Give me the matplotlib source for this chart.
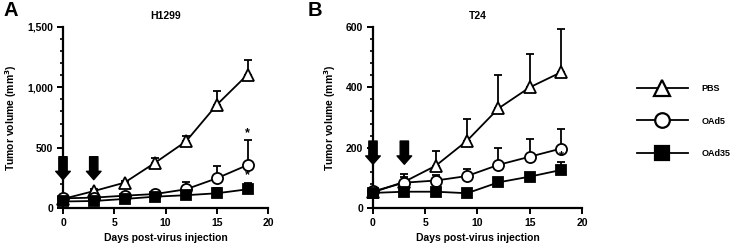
import numpy as np
import matplotlib
matplotlib.use("Agg")
import matplotlib.pyplot as plt
from matplotlib.lines import Line2D
from matplotlib.ticker import MultipleLocator

plt.rcParams["font.family"] = ["Liberation Sans", "DejaVu Sans"]
plt.rcParams["font.weight"] = "bold"

days = [0, 3, 6, 9, 12, 15, 18]
arrow_days = [0, 3]

# H1299
h_pbs      = [75, 140, 210, 376, 552, 855, 1105]
h_pbs_err  = [8, 15, 15, 40, 45, 112, 122]
h_oad5     = [80, 86, 102, 116, 155, 246, 356]
h_oad5_err = [8, 10, 12, 15, 62, 102, 207]
h_oad35     = [54, 58, 75, 94, 106, 122, 155]
h_oad35_err = [5, 5, 8, 10, 12, 44, 52]
h_stars = [620, 273]

# T24
t_pbs      = [52, 87, 140, 223, 330, 400, 450]
t_pbs_err  = [5, 27, 50, 72, 110, 110, 143]
t_oad5     = [55, 84, 91, 106, 143, 170, 197]
t_oad5_err = [5, 18, 18, 23, 55, 59, 65]
t_oad35     = [50, 54, 54, 49, 85, 104, 126]
t_oad35_err = [3, 3, 3, 3, 8, 8, 28]
t_stars = [172]

series_names = ["PBS", "OAd5", "OAd35"]
styles = {
    "PBS":   dict(marker="^", mfc="white", ms=8.5),
    "OAd5":  dict(marker="o", mfc="white", ms=8),
    "OAd35": dict(marker="s", mfc="black", ms=7.5),
}

W, H = 736, 245
fig = plt.figure(figsize=(W / 100, H / 100), dpi=100)
axA = fig.add_axes([63 / W, (H - 208) / H, (268 - 63) / W, 181 / H])
axB = fig.add_axes([373 / W, (H - 208) / H, (582 - 373) / W, 181 / H])


def draw_panel(ax, data, ymax, major, minor, yticklabels, title, arrow_span, stars):
    for name, (vals, err) in zip(series_names, data):
        st = styles[name]
        ax.errorbar(days, vals, yerr=[np.zeros(len(err)), err], fmt="none",
                    ecolor="black", elinewidth=1.3, capsize=3.2, capthick=1.3,
                    clip_on=False, zorder=2)
        ax.plot(days, vals, color="black", lw=1.3, marker=st["marker"],
                mfc=st["mfc"], mec="black", mew=1.3, ms=st["ms"],
                clip_on=False, zorder=3)
    for d in arrow_days:
        ax.annotate("", xy=(d, arrow_span[1]), xytext=(d, arrow_span[0]),
                    arrowprops=dict(arrowstyle="simple,head_width=10.5,head_length=6,tail_width=6",
                                    mutation_scale=1, color="black", shrinkA=0, shrinkB=0),
                    zorder=5, annotation_clip=False)
    for s in stars:
        ax.text(18, s, "*", ha="center", va="center", fontsize=9, fontweight="bold", zorder=6)

    ax.set_xlim(0, 20)
    ax.set_ylim(0, ymax)
    ax.set_xticks([0, 5, 10, 15, 20])
    ax.set_yticks(major)
    ax.set_yticklabels(yticklabels)
    ax.yaxis.set_minor_locator(MultipleLocator(minor))
    for sp in ["top", "right"]:
        ax.spines[sp].set_visible(False)
    for sp in ["left", "bottom"]:
        ax.spines[sp].set_linewidth(1.6)
    ax.tick_params(which="major", length=4, width=1.4, labelsize=7.5, pad=3)
    ax.tick_params(which="minor", length=2.5, width=1.2)
    for lab in ax.get_xticklabels() + ax.get_yticklabels():
        lab.set_fontweight("bold")
    ax.set_xlabel("Days post-virus injection", fontsize=7.5, fontweight="bold", labelpad=4)
    ax.set_ylabel("Tumor volume (mm$^\\mathbf{3}$)", fontsize=7.5, fontweight="bold", labelpad=6)
    ax.set_title(title, fontsize=7.5, fontweight="bold", pad=6)


draw_panel(axA, [(h_pbs, h_pbs_err), (h_oad5, h_oad5_err), (h_oad35, h_oad35_err)],
           1500, [0, 500, 1000, 1500], 100, ["0", "500", "1,000", "1,500"],
           "H1299", (425, 235), h_stars)
draw_panel(axB, [(t_pbs, t_pbs_err), (t_oad5, t_oad5_err), (t_oad35, t_oad35_err)],
           600, [0, 200, 400, 600], 40, ["0", "200", "400", "600"],
           "T24", (222, 145), t_stars)

fig.text(4 / W, 1 - 10 / H, "A", fontsize=14.5, fontweight="bold", va="center", ha="left")
fig.text(308 / W, 1 - 10 / H, "B", fontsize=14.5, fontweight="bold", va="center", ha="left")

handles = [Line2D([], [], color="black", lw=1.3, marker=styles[n]["marker"],
                  mfc=styles[n]["mfc"], mec="black", mew=1.6, ms=styles[n]["ms"] + 2.5)
           for n in series_names]
leg = fig.legend(handles, series_names, loc="center left",
                 bbox_to_anchor=(629 / W, 1 - 121 / H), frameon=False,
                 fontsize=6.5, handlelength=5.6, handletextpad=1.5, labelspacing=2.6)
for t in leg.get_texts():
    t.set_fontweight("bold")

fig.savefig("out.png", dpi=100)
